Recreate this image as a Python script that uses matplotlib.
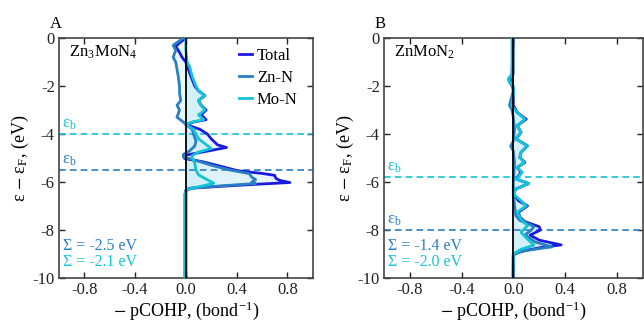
import matplotlib
matplotlib.use("Agg")
import matplotlib.pyplot as plt
from matplotlib.lines import Line2D
import numpy as np

plt.rcParams['font.family'] = ['Liberation Serif', 'DejaVu Serif']
plt.rcParams['mathtext.fontset'] = 'stix'

C_TOT = '#1a1ae0'
C_ZN = '#2a7fc4'
C_MO = '#12c4d6'

# Panel A: Zn3MoN4
eA_tot = [0.0, -0.2, -0.35, -0.6, -0.8, -1.0, -1.3, -1.6, -2.0, -2.2, -2.4, -2.6, -2.8, -3.0, -3.2, -3.4, -3.5, -3.6,
          -3.8, -4.0, -4.2, -4.45, -4.56, -4.68, -4.88, -5.02, -5.15, -5.35, -5.53, -5.64, -5.72, -5.85, -5.93, -6.02,
          -6.08, -6.17, -6.26, -6.35, -10.0]
xA_tot = [0.0, -0.05, -0.08, -0.05, -0.03, 0.0, 0.02, 0.04, 0.07, 0.1, 0.15, 0.1, 0.12, 0.16, 0.12, 0.16, 0.06, 0.0,
          0.11, 0.17, 0.2, 0.25, 0.32, 0.2, 0.0, -0.01, 0.13, 0.28, 0.41, 0.6, 0.7, 0.71, 0.74, 0.82,
          0.6, 0.3, 0.03, 0.0, 0.0]

eA_zn = [0.0, -0.15, -0.3, -0.5, -0.8, -1.0, -1.3, -1.6, -2.0, -2.3, -2.6, -2.8, -3.0, -3.3, -3.5, -3.6, -3.8, -4.0,
         -4.3, -4.5, -4.7, -4.85, -4.95, -5.1, -5.3, -5.5, -5.65, -5.8, -5.9, -6.0, -6.06, -6.15, -6.25, -6.35, -10.0]
xA_zn = [-0.02, -0.06, -0.1, -0.08, -0.1, -0.08, -0.07, -0.06, -0.05, -0.05, -0.04, -0.07, -0.05, -0.07, -0.02, 0.0,
         0.05, 0.06, 0.08, 0.07, 0.03, -0.02, -0.02, 0.08, 0.2, 0.35, 0.5, 0.52, 0.55, 0.52, 0.55, 0.3, 0.05, 0.0, 0.0]

eA_mo = [0.0, -0.5, -1.0, -1.2, -1.6, -2.0, -2.2, -2.4, -2.6, -2.8, -3.0, -3.2, -3.4, -3.5, -3.6, -3.8, -4.0, -4.2,
         -4.4, -4.6, -4.75, -4.9, -5.0, -5.2, -5.5, -5.7, -5.85, -6.05, -6.2, -6.3, -6.5, -10.0]
xA_mo = [0.0, 0.0, 0.01, 0.03, 0.05, 0.08, 0.1, 0.15, 0.1, 0.12, 0.15, 0.1, 0.14, 0.05, 0.0, 0.06, 0.08, 0.1,
         0.15, 0.2, 0.1, 0.05, 0.05, 0.07, 0.08, 0.1, 0.15, 0.22, 0.1, 0.01, -0.01, -0.01]

# Panel B: ZnMoN2
eB_tot = [0.0, -1.5, -1.7, -1.9, -2.1, -2.5, -2.8, -3.1, -3.38, -3.65, -3.93, -4.2, -4.49, -4.76, -4.97, -5.18, -5.39,
          -5.6, -5.87, -6.06, -6.29, -6.5, -6.78, -6.99, -7.26, -7.45, -7.65, -7.86, -8.0, -8.21, -8.42, -8.62,
          -8.72, -8.9, -9.04, -10.0]
xB_tot = [0.0, -0.01, -0.03, -0.02, 0.0, 0.0, 0.0, 0.03, 0.1, 0.03, 0.06, 0.02, 0.11, 0.06, 0.05, 0.09, 0.03,
          0.06, 0.02, 0.12, 0.02, 0.0, 0.04, 0.11, 0.04, 0.05, 0.09, 0.2, 0.21, 0.13, 0.2, 0.37,
          0.22, 0.05, 0.0, 0.0]

eB_zn = [0.0, -1.5, -1.7, -1.9, -2.2, -2.6, -2.8, -3.0, -3.3, -3.8, -4.3, -4.5, -4.7, -5.2, -6.0, -6.5, -7.0, -7.4,
         -7.6, -7.85, -8.0, -8.2, -8.5, -8.7, -8.85, -9.0, -10.0]
xB_zn = [0.0, 0.0, -0.02, -0.01, 0.0, -0.02, -0.03, -0.01, 0.0, 0.01, 0.0, -0.02, 0.0, 0.01, 0.0, 0.0, 0.01, 0.02,
         0.05, 0.16, 0.14, 0.09, 0.17, 0.3, 0.1, 0.0, 0.0]

eB_mo = [0.0, -1.5, -1.71, -1.85, -2.0, -2.4, -2.82, -3.1, -3.38, -3.65, -3.93, -4.2, -4.49, -4.76, -4.97, -5.18,
         -5.39, -5.6, -5.87, -6.06, -6.29, -6.5, -6.78, -6.99, -7.26, -7.54, -7.82, -8.1, -8.38, -8.63, -8.8,
         -9.0, -10.0]
xB_mo = [-0.01, -0.01, -0.04, -0.03, 0.0, 0.0, -0.013, 0.03, 0.09, 0.03, 0.06, 0.02, 0.11, 0.06, 0.05, 0.085,
         0.03, 0.07, 0.02, 0.12, 0.02, 0.0, 0.06, 0.1, 0.03, 0.06, 0.11, 0.06, 0.11, 0.16, 0.06,
         0.0, -0.005]

panels = [
    dict(tag='A', name=r'Zn$_\mathregular{3}$MoN$_\mathregular{4}$', tot=(eA_tot, xA_tot), zn=(eA_zn, xA_zn),
         mo=(eA_mo, xA_mo), eb_mo=-4.0, eb_zn=-5.5, sig_zn='Σ = -2.5 eV', sig_mo='Σ = -2.1 eV', legend=True,
         rect=[0.0916, 0.160, 0.394, 0.725]),
    dict(tag='B', name=r'ZnMoN$_\mathregular{2}$', tot=(eB_tot, xB_tot), zn=(eB_zn, xB_zn), mo=(eB_mo, xB_mo),
         eb_mo=-5.8, eb_zn=-8.0, sig_zn='Σ = -1.4 eV', sig_mo='Σ = -2.0 eV', legend=False,
         rect=[0.5963, 0.160, 0.4015, 0.725]),
]

fig = plt.figure(figsize=(6.44, 3.31), dpi=100)

for p in panels:
    ax = fig.add_axes(p['rect'])
    e_t, x_t = map(np.array, p['tot'])
    e_z, x_z = map(np.array, p['zn'])
    e_m, x_m = map(np.array, p['mo'])
    ax.fill_betweenx(e_t, 0, x_t, where=x_t > 0, color='#eaf6fc', lw=0, zorder=1)
    ax.fill_betweenx(e_z, 0, x_z, color='#dcf2f9', lw=0, alpha=0.6, zorder=1)
    ax.fill_betweenx(e_m, 0, x_m, color='#ccf0f7', lw=0, alpha=0.7, zorder=1)
    ax.plot(x_t, e_t, color=C_TOT, lw=2.0, zorder=3, solid_joinstyle='round')
    ax.plot(x_z, e_z, color=C_ZN, lw=2.0, zorder=4, solid_joinstyle='round')
    ax.plot(x_m, e_m, color=C_MO, lw=2.0, zorder=5, solid_joinstyle='round')
    ax.axvline(0, color='black', lw=1.3, zorder=6)
    ax.axhline(p['eb_mo'], color=C_MO, lw=1.2, ls=(0, (4, 2.5)), zorder=2)
    ax.axhline(p['eb_zn'], color=C_ZN, lw=1.2, ls=(0, (4, 2.5)), zorder=2)
    ax.text(-0.98, p['eb_mo'] + 0.1, r'ε$_\mathregular{b}$', color=C_MO, fontsize=12, va='bottom', ha='left')
    ax.text(-0.98, p['eb_zn'] + 0.1, r'ε$_\mathregular{b}$', color=C_ZN, fontsize=12, va='bottom', ha='left')
    ax.text(-0.97, -8.65, p['sig_zn'], color=C_ZN, fontsize=11.5, va='center', ha='left')
    ax.text(-0.97, -9.33, p['sig_mo'], color=C_MO, fontsize=11.5, va='center', ha='left')
    ax.text(-0.92, -0.6, p['name'], fontsize=12, va='center', ha='left')
    ax.text(-1.07, 0.25, p['tag'], fontsize=12, va='bottom', ha='left')
    ax.set_xlim(-1.0, 1.0)
    ax.set_ylim(-10, 0)
    ax.set_xticks([-0.8, -0.4, 0.0, 0.4, 0.8])
    ax.set_xticklabels(['-0.8', '-0.4', '0.0', '0.4', '0.8'])
    ax.set_yticks([0, -2, -4, -6, -8, -10])
    ax.set_yticklabels(['0', '-2', '-4', '-6', '-8', '-10'])
    ax.tick_params(direction='in', top=True, right=True, labelsize=12, length=4, width=1, colors='#222222',
                   pad=3)
    for s in ax.spines.values():
        s.set_color('#444444')
        s.set_linewidth(1.2)
    ax.set_xlabel(r'$-$ pCOHP, (bond$^\mathregular{-1}$)', fontsize=13, labelpad=1)
    ax.set_ylabel(r'ε $-$ ε$_\mathregular{F}$, (eV)', fontsize=13, labelpad=1)
    if p['legend']:
        handles = [Line2D([], [], color=C_TOT, lw=2), Line2D([], [], color=C_ZN, lw=2),
                   Line2D([], [], color=C_MO, lw=2)]
        ax.legend(handles, ['Total', 'Zn-N', 'Mo-N'], loc='upper right', frameon=False, fontsize=12,
                  handlelength=0.8, handletextpad=0.3, labelspacing=0.35, borderaxespad=0.2,
                  bbox_to_anchor=(0.98, 1.0))

fig.savefig('out.png', dpi=100)
